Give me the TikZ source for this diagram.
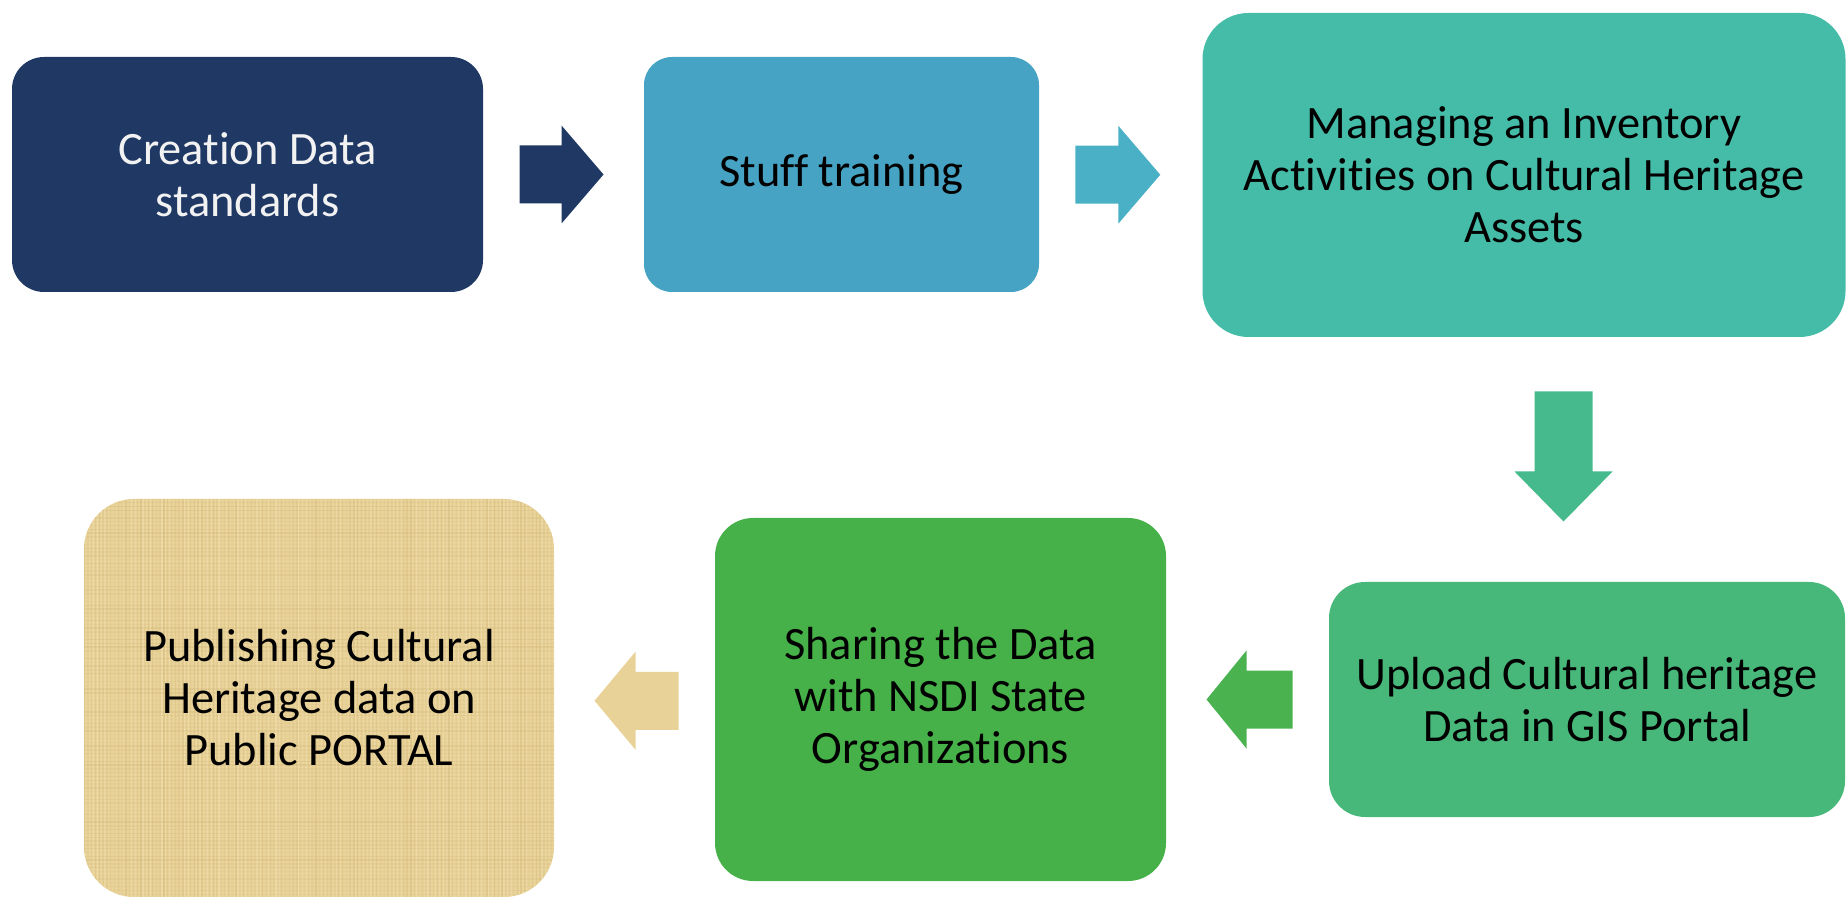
\documentclass[tikz,border=0pt]{standalone}
\usepackage{fontspec}
\setmainfont[Ligatures=NoCommon]{Carlito}
\usepackage{tikz}
\usetikzlibrary{calc, positioning}
\definecolor{boxnavy}{RGB}{32,56,100}
\definecolor{boxsky}{RGB}{71,163,195}
\definecolor{arrsky}{RGB}{74,176,198}
\definecolor{boxteal}{RGB}{69,188,168}
\definecolor{arrteal}{RGB}{70,186,140}
\definecolor{boxmint}{RGB}{71,184,122}
\definecolor{arrleaf}{RGB}{75,178,80}
\definecolor{boxleaf}{RGB}{70,177,72}
\definecolor{papyrus}{RGB}{232,210,152}
\definecolor{papyrusdark}{RGB}{196,164,96}
\definecolor{papyruslight}{RGB}{248,234,196}
\tikzset{
  stage/.style={align=center, inner sep=0pt, font=\fontsize{23.2}{26}\selectfont},
  papyrustex/.style={fill=papyrus, path picture={
    \foreach \k in {0,...,125}{
      \pgfmathsetmacro\op{0.03+0.2*rnd}
      \draw[papyrusdark, opacity=\op, line width=0.7pt]
        ($(path picture bounding box.north west)+(\k*1.9pt,0pt)$) --
        ($(path picture bounding box.south west)+(\k*1.9pt,0pt)$);
      \pgfmathsetmacro\op{0.05+0.35*rnd}
      \draw[papyruslight, opacity=\op, line width=0.6pt]
        ($(path picture bounding box.north west)+(\k*1.9pt+0.95pt,0pt)$) --
        ($(path picture bounding box.south west)+(\k*1.9pt+0.95pt,0pt)$);
    }
    \foreach \k in {0,...,105}{
      \pgfmathsetmacro\op{0.03+0.18*rnd}
      \draw[papyrusdark, opacity=\op, line width=0.7pt]
        ($(path picture bounding box.north west)+(0pt,-\k*1.9pt)$) --
        ($(path picture bounding box.north east)+(0pt,-\k*1.9pt)$);
    }
  }},
}
% block arrow: style, centre, angle, shaft length, head length
\newcommand{\blockarrow}[5]{%
  \path[#1, shift={(#2)}, rotate=#3]
    ({-(#4+#5)/2},-29) -- ({(#4-#5)/2},-29) -- ({(#4-#5)/2},-49) --
    ({(#4+#5)/2},0) -- ({(#4-#5)/2},49) -- ({(#4-#5)/2},29) --
    ({-(#4+#5)/2},29) -- cycle;}

\begin{document}
\begin{tikzpicture}[x=0.5pt, y=-0.5pt]
\pgfmathsetseed{7}
\useasboundingbox (0,0) rectangle (1847,897);

% top row
\node[stage, fill=boxnavy, text=white!95!black, minimum width=235.5pt, minimum height=117.5pt, rounded corners=16pt]
  (b1) at (247.5,174.5) {Creation Data\\standards};
\node[stage, fill=boxsky, minimum width=197.5pt, minimum height=117.5pt, rounded corners=14pt]
  (b2) at (841.5,174.5) {Stuff training};
\node[stage, fill=boxteal, minimum width=321.5pt, minimum height=162pt, rounded corners=23pt]
  (b3) at (1524,175) {Managing an Inventory\\Activities on Cultural Heritage\\Assets};

% bottom row
\node[stage, fill=boxmint, minimum width=258pt, minimum height=117.5pt, rounded corners=18pt]
  (b4) at (1587,699.5) {Upload Cultural heritage\\Data in GIS Portal};
\node[stage, fill=boxleaf, minimum width=225.5pt, minimum height=181.5pt, rounded corners=19pt]
  (b5) at (940.5,699.5) {Sharing the Data\\with NSDI State\\Organizations};
\node[stage, papyrustex, minimum width=235pt, minimum height=199pt, rounded corners=25pt]
  (b6) at (319,698) {Publishing Cultural\\Heritage data on\\Public PORTAL};

% arrows between stages
\coordinate (a1) at ($(b1.east)!0.5!(b2.west)+(-2,0)$);
\coordinate (a2) at ($(b2.east)!0.5!(b3.west)+(-3,0)$);
\coordinate (a3) at ($(b3.south)!0.5!(b4.north)+(8,-3)$);
\coordinate (a4) at ($(b5.east)!0.5!(b4.west)+(2,0)$);
\coordinate (a5) at ($(b6.east)!0.5!(b5.west)+(2,2)$);
\blockarrow{fill=boxnavy}{a1}{0}{42}{42}
\blockarrow{fill=arrsky}{a2}{0}{43}{42}
\blockarrow{fill=arrteal}{a3}{-90}{80}{50}
\blockarrow{fill=arrleaf}{a4}{180}{46}{40}
\blockarrow{papyrustex}{a5}{180}{43}{41}
\end{tikzpicture}
\end{document}
